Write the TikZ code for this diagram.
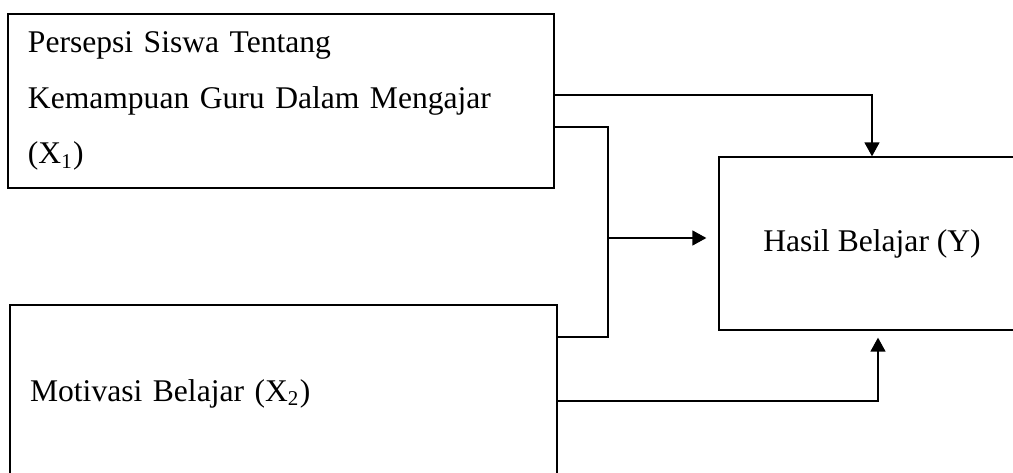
\documentclass[tikz,border=0pt]{standalone}
\usepackage{fontspec}
\setmainfont{Liberation Serif}
\usetikzlibrary{arrows.meta}
\newcommand{\unit}{0.38pt}
\tikzset{
  varbox/.style = {draw, line width = 0.5pt, rectangle, inner xsep = 20*\unit,
    inner ysep = 0pt, align = left, font = \fontsize{12}{21.1}\selectfont},
  flow/.style = {line width = 0.5pt},
  flowarrow/.style = {flow, -{Triangle[length = 5.3pt, width = 5.7pt]}}
}

\begin{document}
\begin{tikzpicture}[x = \unit, y = -\unit]
    \clip (0,0) rectangle (1013,473);
    \node [varbox, text width = 192.3pt, minimum height = 174*\unit]
      (persepsi) at (281,101)
      {Persepsi Siswa Tentang\\Kemampuan Guru Dalam Mengajar\\(X\textsubscript{1})};
    \node [varbox, text width = 192.6pt, minimum height = 177*\unit]
      (motivasi) at (283.5,393.5) {Motivasi Belajar (X\textsubscript{2})};
    \node [varbox, align = center, minimum width = 306*\unit,
      minimum height = 173*\unit] (hasil) at (872,243.5) {Hasil Belajar (Y)};
    % joint line of X1 and X2
    \coordinate (join) at (608,238);
    \draw [flow] ([yshift = -26*\unit]persepsi.east) -| (join)
      |- ([yshift = 56.5*\unit]motivasi.east);
    \draw [flowarrow] (join) to
      ([xshift = -12*\unit, yshift = 5.5*\unit]hasil.west);
    % single paths
    \draw [flowarrow] ([yshift = 6*\unit]persepsi.east) -| (hasil.north);
    \draw [flowarrow] ([yshift = -7.5*\unit]motivasi.east) -|
      ([xshift = 6*\unit, yshift = -7*\unit]hasil.south);
\end{tikzpicture}
\end{document}
